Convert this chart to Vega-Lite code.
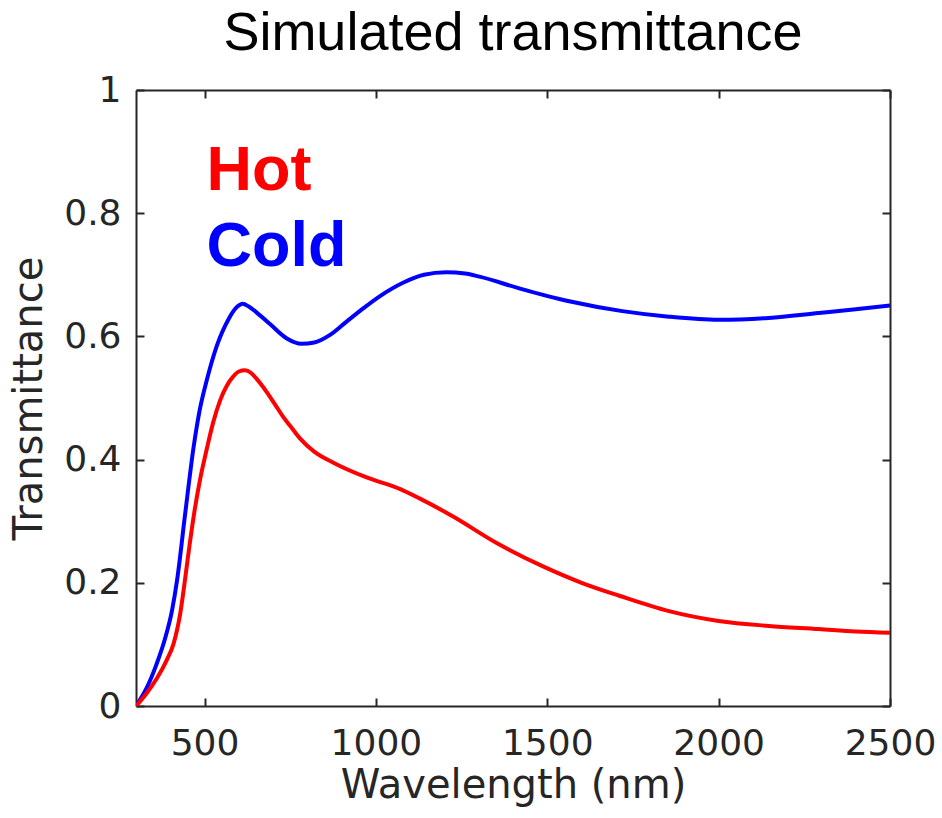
{
  "$schema": "https://vega.github.io/schema/vega-lite/v6.json",
  "autosize": {"type": "none"},
  "padding": {"left": 136, "top": 90, "right": 52, "bottom": 112},
  "width": 754,
  "height": 616,
  "background": "white",
  "title": {
    "text": "Simulated transmittance",
    "font": "Liberation Sans",
    "fontSize": 54,
    "fontWeight": "normal",
    "color": "#000000",
    "anchor": "middle",
    "baseline": "alphabetic",
    "offset": -32
  },
  "config": {
    "view": {"stroke": null},
    "axis": {
      "grid": false,
      "domainColor": "#262626",
      "domainWidth": 2,
      "tickColor": "#262626",
      "tickWidth": 2,
      "tickSize": -8,
      "labelFont": "DejaVu Sans",
      "labelFontSize": 36,
      "labelColor": "#262626",
      "titleFont": "DejaVu Sans",
      "titleFontSize": 40,
      "titleFontWeight": "normal",
      "titleColor": "#262626"
    }
  },
  "datasets": {
    "curves": [
      {"series": "Cold", "wavelength": 300, "transmittance": 0.000},
      {"series": "Cold", "wavelength": 330, "transmittance": 0.028},
      {"series": "Cold", "wavelength": 360, "transmittance": 0.068},
      {"series": "Cold", "wavelength": 385, "transmittance": 0.110},
      {"series": "Cold", "wavelength": 405, "transmittance": 0.155},
      {"series": "Cold", "wavelength": 420, "transmittance": 0.205},
      {"series": "Cold", "wavelength": 443, "transmittance": 0.310},
      {"series": "Cold", "wavelength": 468, "transmittance": 0.420},
      {"series": "Cold", "wavelength": 485, "transmittance": 0.478},
      {"series": "Cold", "wavelength": 507, "transmittance": 0.530},
      {"series": "Cold", "wavelength": 536, "transmittance": 0.585},
      {"series": "Cold", "wavelength": 570, "transmittance": 0.628},
      {"series": "Cold", "wavelength": 595, "transmittance": 0.648},
      {"series": "Cold", "wavelength": 611, "transmittance": 0.653},
      {"series": "Cold", "wavelength": 630, "transmittance": 0.648},
      {"series": "Cold", "wavelength": 660, "transmittance": 0.635},
      {"series": "Cold", "wavelength": 691, "transmittance": 0.620},
      {"series": "Cold", "wavelength": 739, "transmittance": 0.597},
      {"series": "Cold", "wavelength": 783, "transmittance": 0.588},
      {"series": "Cold", "wavelength": 820, "transmittance": 0.590},
      {"series": "Cold", "wavelength": 865, "transmittance": 0.602},
      {"series": "Cold", "wavelength": 910, "transmittance": 0.622},
      {"series": "Cold", "wavelength": 962, "transmittance": 0.645},
      {"series": "Cold", "wavelength": 1011, "transmittance": 0.665},
      {"series": "Cold", "wavelength": 1079, "transmittance": 0.687},
      {"series": "Cold", "wavelength": 1140, "transmittance": 0.700},
      {"series": "Cold", "wavelength": 1205, "transmittance": 0.704},
      {"series": "Cold", "wavelength": 1260, "transmittance": 0.702},
      {"series": "Cold", "wavelength": 1302, "transmittance": 0.697},
      {"series": "Cold", "wavelength": 1418, "transmittance": 0.678},
      {"series": "Cold", "wavelength": 1564, "transmittance": 0.657},
      {"series": "Cold", "wavelength": 1719, "transmittance": 0.641},
      {"series": "Cold", "wavelength": 1855, "transmittance": 0.632},
      {"series": "Cold", "wavelength": 2000, "transmittance": 0.627},
      {"series": "Cold", "wavelength": 2146, "transmittance": 0.630},
      {"series": "Cold", "wavelength": 2292, "transmittance": 0.638},
      {"series": "Cold", "wavelength": 2400, "transmittance": 0.644},
      {"series": "Cold", "wavelength": 2500, "transmittance": 0.650},
      {"series": "Hot", "wavelength": 300, "transmittance": 0.000},
      {"series": "Hot", "wavelength": 330, "transmittance": 0.020},
      {"series": "Hot", "wavelength": 361, "transmittance": 0.045},
      {"series": "Hot", "wavelength": 390, "transmittance": 0.075},
      {"series": "Hot", "wavelength": 409, "transmittance": 0.100},
      {"series": "Hot", "wavelength": 429, "transmittance": 0.150},
      {"series": "Hot", "wavelength": 443, "transmittance": 0.205},
      {"series": "Hot", "wavelength": 456, "transmittance": 0.260},
      {"series": "Hot", "wavelength": 470, "transmittance": 0.314},
      {"series": "Hot", "wavelength": 487, "transmittance": 0.368},
      {"series": "Hot", "wavelength": 506, "transmittance": 0.416},
      {"series": "Hot", "wavelength": 525, "transmittance": 0.460},
      {"series": "Hot", "wavelength": 546, "transmittance": 0.497},
      {"series": "Hot", "wavelength": 565, "transmittance": 0.520},
      {"series": "Hot", "wavelength": 584, "transmittance": 0.535},
      {"series": "Hot", "wavelength": 600, "transmittance": 0.543},
      {"series": "Hot", "wavelength": 618, "transmittance": 0.545},
      {"series": "Hot", "wavelength": 635, "transmittance": 0.541},
      {"series": "Hot", "wavelength": 652, "transmittance": 0.531},
      {"series": "Hot", "wavelength": 681, "transmittance": 0.510},
      {"series": "Hot", "wavelength": 705, "transmittance": 0.490},
      {"series": "Hot", "wavelength": 730, "transmittance": 0.469},
      {"series": "Hot", "wavelength": 755, "transmittance": 0.451},
      {"series": "Hot", "wavelength": 779, "transmittance": 0.434},
      {"series": "Hot", "wavelength": 820, "transmittance": 0.413},
      {"series": "Hot", "wavelength": 876, "transmittance": 0.395},
      {"series": "Hot", "wavelength": 973, "transmittance": 0.371},
      {"series": "Hot", "wavelength": 1071, "transmittance": 0.352},
      {"series": "Hot", "wavelength": 1127, "transmittance": 0.337},
      {"series": "Hot", "wavelength": 1224, "transmittance": 0.308},
      {"series": "Hot", "wavelength": 1351, "transmittance": 0.265},
      {"series": "Hot", "wavelength": 1486, "transmittance": 0.227},
      {"series": "Hot", "wavelength": 1600, "transmittance": 0.200},
      {"series": "Hot", "wavelength": 1710, "transmittance": 0.179},
      {"series": "Hot", "wavelength": 1855, "transmittance": 0.154},
      {"series": "Hot", "wavelength": 2000, "transmittance": 0.138},
      {"series": "Hot", "wavelength": 2146, "transmittance": 0.130},
      {"series": "Hot", "wavelength": 2292, "transmittance": 0.125},
      {"series": "Hot", "wavelength": 2400, "transmittance": 0.121},
      {"series": "Hot", "wavelength": 2500, "transmittance": 0.119}
    ],
    "labels": [
      {"series": "Hot", "wavelength": 506, "transmittance": 0.838},
      {"series": "Cold", "wavelength": 506, "transmittance": 0.714}
    ]
  },
  "resolve": {"axis": {"x": "independent", "y": "independent"}},
  "layer": [
    {
      "data": {"name": "curves"},
      "mark": {"type": "line", "strokeWidth": 4, "interpolate": "monotone", "clip": true},
      "encoding": {
        "x": {
          "field": "wavelength",
          "type": "quantitative",
          "scale": {"domain": [300, 2500], "nice": false, "zero": false},
          "axis": {
            "orient": "bottom",
            "values": [500, 1000, 1500, 2000, 2500],
            "format": "d",
            "labelPadding": 28,
            "labelFlush": false,
            "title": "Wavelength (nm)",
            "titlePadding": 4
          }
        },
        "y": {
          "field": "transmittance",
          "type": "quantitative",
          "scale": {"domain": [0, 1], "nice": false},
          "axis": {
            "orient": "left",
            "values": [0, 0.2, 0.4, 0.6, 0.8, 1],
            "format": "~g",
            "labelPadding": 23,
            "labelFlush": false,
            "title": "Transmittance",
            "titlePadding": 14
          }
        },
        "color": {
          "field": "series",
          "type": "nominal",
          "scale": {"domain": ["Hot", "Cold"], "range": ["#ff0000", "#0000ff"]},
          "legend": null
        },
        "detail": {"field": "series"}
      }
    },
    {
      "data": {"name": "labels"},
      "mark": {
        "type": "text",
        "font": "Liberation Sans",
        "fontSize": 63,
        "fontWeight": "bold",
        "align": "left",
        "baseline": "alphabetic"
      },
      "encoding": {
        "x": {
          "field": "wavelength",
          "type": "quantitative",
          "axis": {
            "orient": "top",
            "values": [500, 1000, 1500, 2000, 2500],
            "labels": false,
            "title": null
          }
        },
        "y": {
          "field": "transmittance",
          "type": "quantitative",
          "axis": {
            "orient": "right",
            "values": [0, 0.2, 0.4, 0.6, 0.8, 1],
            "labels": false,
            "title": null
          }
        },
        "text": {"field": "series"},
        "color": {"field": "series", "type": "nominal", "legend": null}
      }
    }
  ]
}
